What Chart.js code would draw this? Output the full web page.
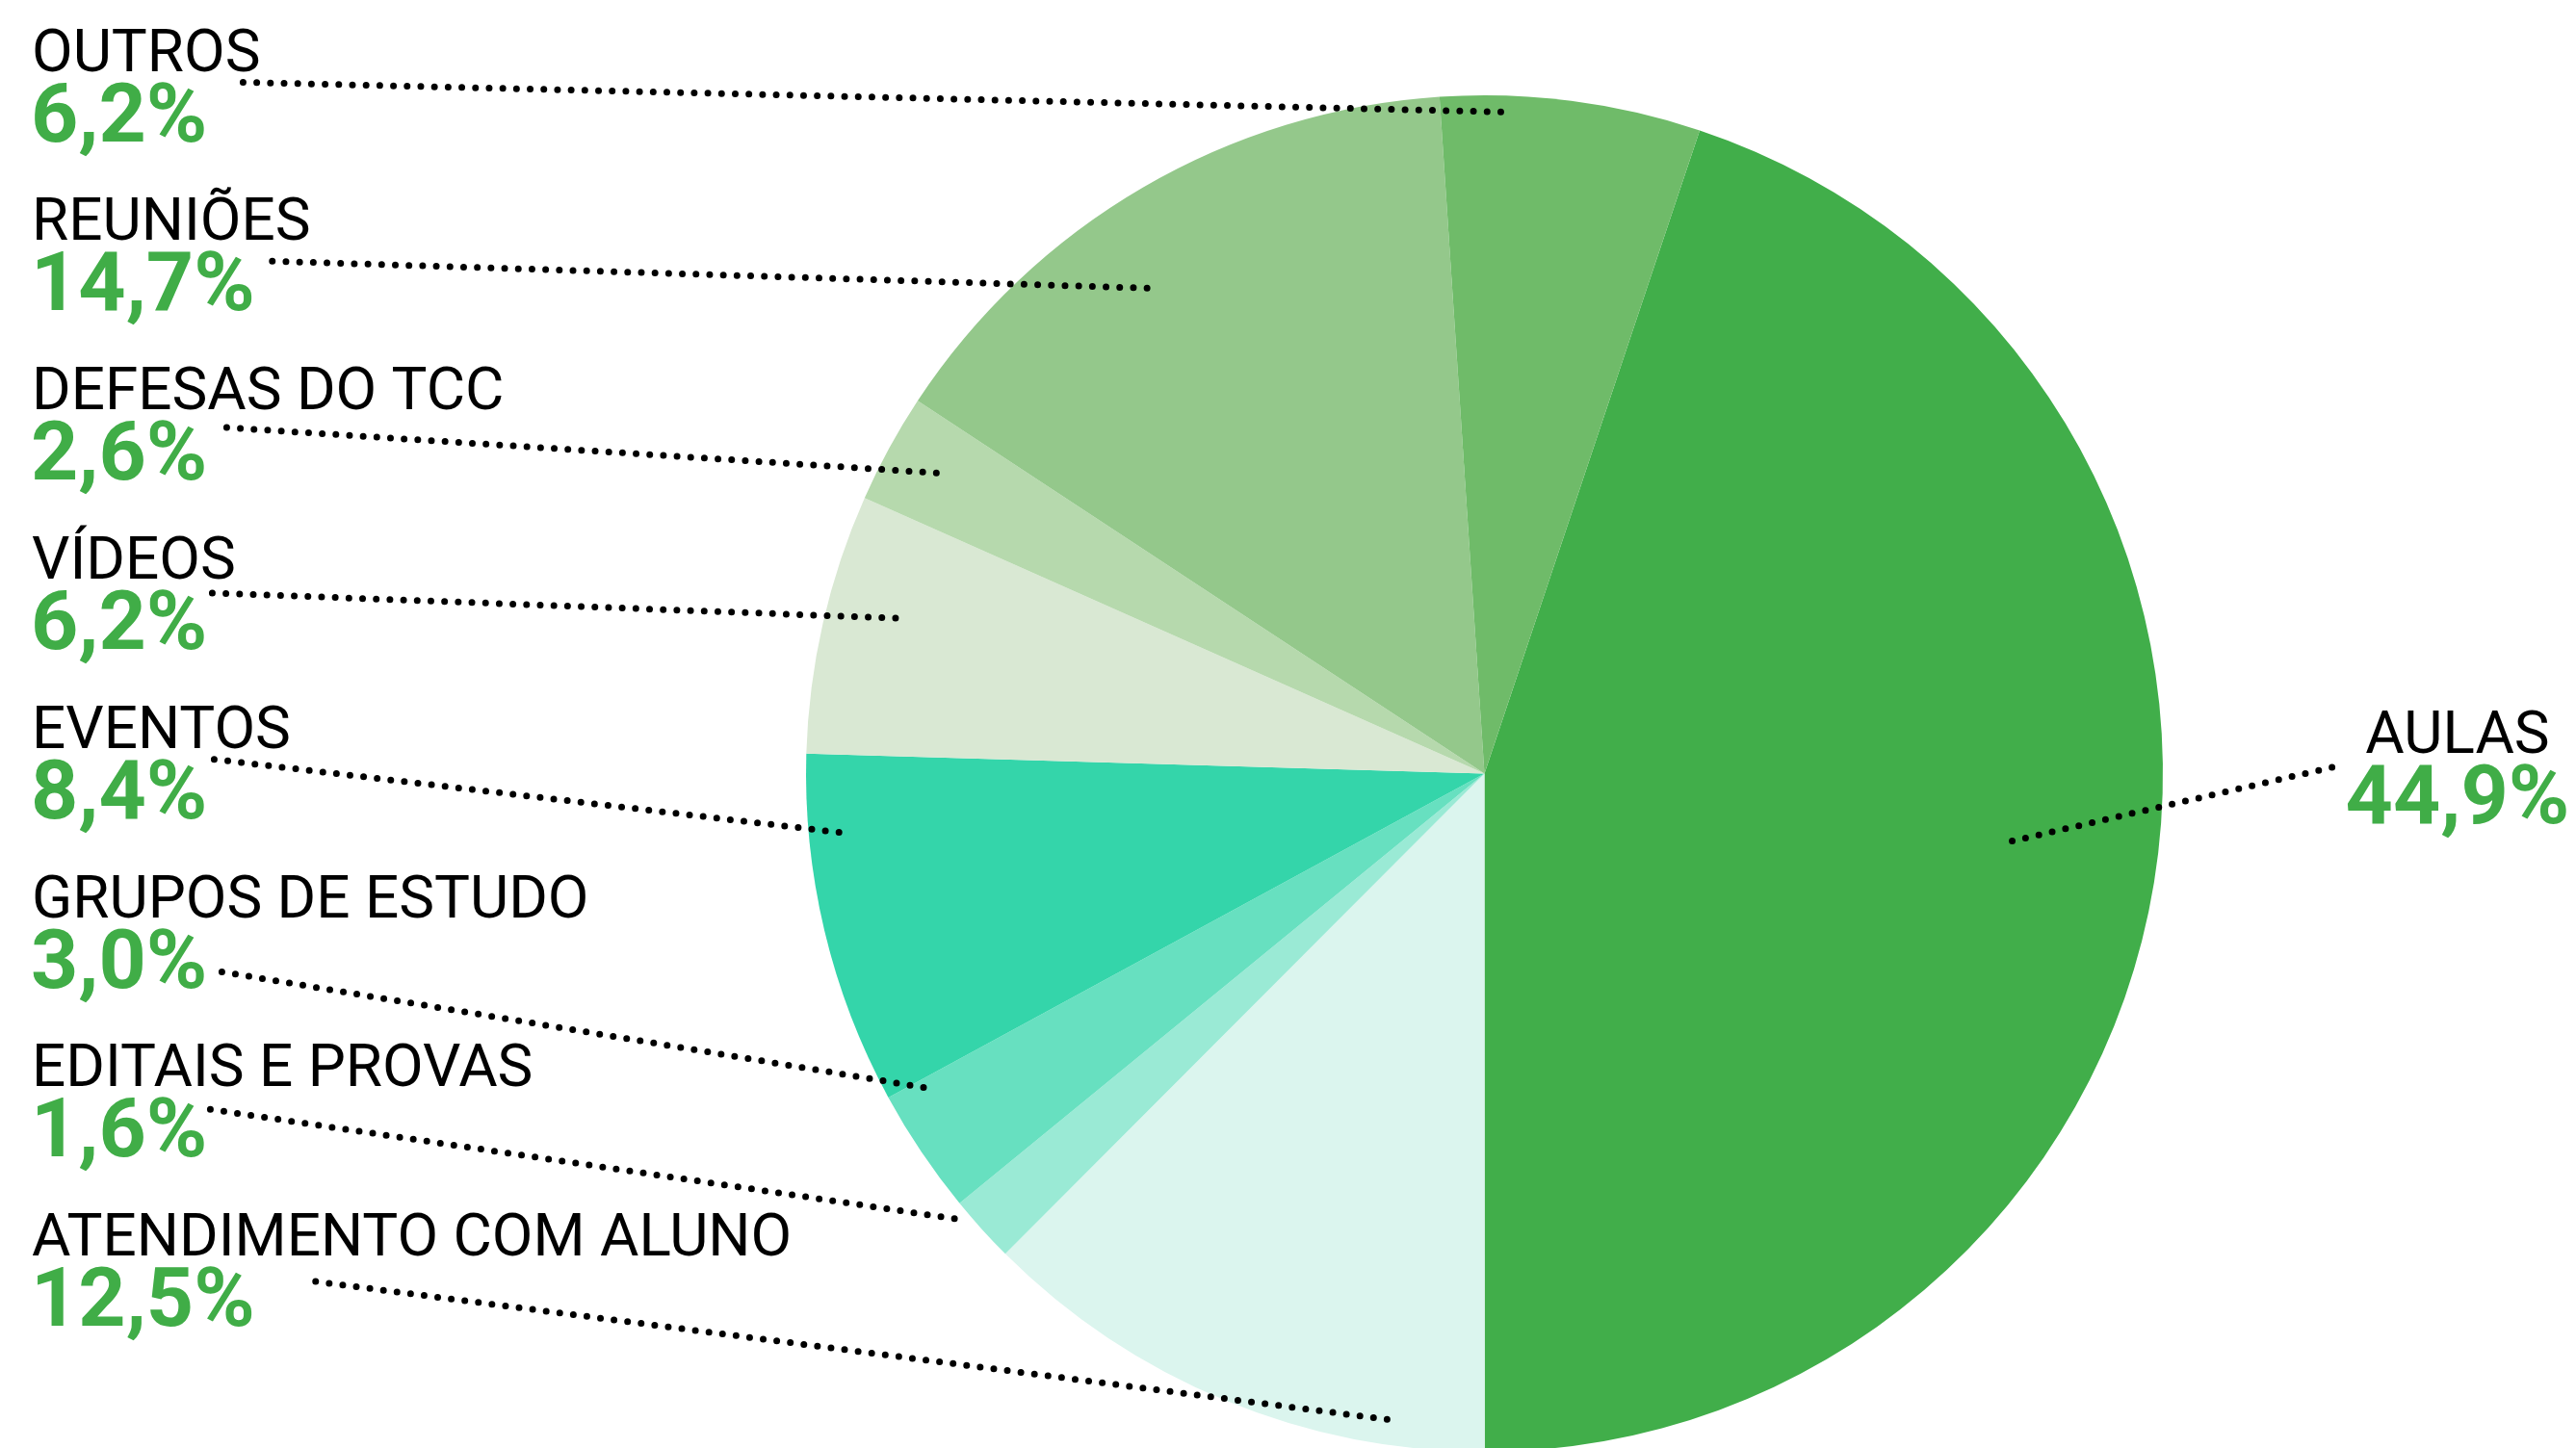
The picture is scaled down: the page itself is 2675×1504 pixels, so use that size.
<!DOCTYPE html>
<html>
<head>
<meta charset="utf-8">
<script src="https://cdn.jsdelivr.net/npm/chart.js@4/dist/chart.umd.min.js"></script>
<style>
html,body{margin:0;padding:0;background:#fff;overflow:hidden;}
#wrap{width:2675px;height:1508px;}
</style>
</head>
<body>
<div id="wrap"><canvas id="c" width="2675" height="1508"></canvas></div>
<script>
// ---- data ----
const categories = ['AULAS','ATENDIMENTO COM ALUNO','EDITAIS E PROVAS','GRUPOS DE ESTUDO','EVENTOS','VÍDEOS','DEFESAS DO TCC','REUNIÕES','OUTROS'];
const values = [44.9, 12.5, 1.6, 3.0, 8.4, 6.2, 2.6, 14.7, 6.2];
const valueLabels = ['44,9%','12,5%','1,6%','3,0%','8,4%','6,2%','2,6%','14,7%','6,2%'];
const sliceColors = ['#41ae4a','#dbf5ee','#9aead5','#67e0c0','#34d5aa','#d9e8d3','#b6d9ad','#94c88b','#6fbb69'];

// ---- label layout (row in left column, leader anchor within slice, leader start offset) ----
const labelRow = [null, 7, 6, 5, 4, 3, 2, 1, 0];
const anchorT = [0.49, 0.19, 0.85, 0.9, 0.77, 0.59, 0.54, 0.43, 0.28];
const anchorR = [0.772, 0.963, 1.018, 0.94, 0.951, 0.894, 0.912, 0.862, 0.976];
const startGap = [14, 63, 3, 15, 7, 5, 20, 18, 37];
const startDy = [15, 27, 24, 57, 12, 15, 19, 22, 12];

const NAME_FONT = '400 62px Roboto';
const PCT_FONT = '700 86px Roboto';
const PCT_COLOR = '#40ad47';

const labelPlugin = {
  id: 'labels',
  afterDatasetsDraw(chart) {
    const ctx = chart.ctx;
    const meta = chart.getDatasetMeta(0);
    ctx.save();
    ctx.textBaseline = 'alphabetic';
    meta.data.forEach((arc, i) => {
      const p = arc.getProps(['x','y','startAngle','endAngle','outerRadius'], true);
      const a = p.startAngle + anchorT[i] * (p.endAngle - p.startAngle);
      const r = anchorR[i] * p.outerRadius;
      const ex = p.x + Math.cos(a) * r;
      const ey = p.y + Math.sin(a) * r;
      let nameBase, sx, sy;
      if (labelRow[i] === null) {
        const cx = 2552;
        nameBase = 782;
        ctx.textAlign = 'center';
        ctx.fillStyle = '#000';
        ctx.font = NAME_FONT;
        ctx.fillText(categories[i], cx, nameBase);
        ctx.font = PCT_FONT;
        ctx.fillStyle = PCT_COLOR;
        ctx.fillText(valueLabels[i], cx, nameBase + 73);
        const w = ctx.measureText(valueLabels[i]).width;
        sx = cx - w / 2 - startGap[i];
        sy = nameBase + startDy[i];
      } else {
        nameBase = 73.5 + 175.8 * labelRow[i];
        ctx.textAlign = 'left';
        ctx.fillStyle = '#000';
        ctx.font = NAME_FONT;
        ctx.fillText(categories[i], 33, nameBase);
        ctx.font = PCT_FONT;
        ctx.fillStyle = PCT_COLOR;
        ctx.fillText(valueLabels[i], 32, nameBase + 73);
        const w = ctx.measureText(valueLabels[i]).width;
        sx = 32 + w + startGap[i];
        sy = nameBase + startDy[i];
      }
      ctx.beginPath();
      ctx.strokeStyle = '#000';
      ctx.lineWidth = 7;
      ctx.lineCap = 'round';
      ctx.setLineDash([0, 14.2]);
      ctx.moveTo(sx, sy);
      ctx.lineTo(ex, ey);
      ctx.stroke();
      ctx.setLineDash([]);
    });
    ctx.restore();
  }
};

new Chart(document.getElementById('c'), {
  type: 'pie',
  data: {
    labels: categories,
    datasets: [{
      data: values,
      backgroundColor: sliceColors,
      borderWidth: 0
    }]
  },
  options: {
    responsive: false,
    animation: false,
    rotation: 18.5,
    layout: { padding: { left: 837, right: 429, top: 99, bottom: 0 } },
    plugins: { legend: { display: false }, tooltip: { enabled: false } }
  },
  plugins: [labelPlugin]
});
</script>
</body>
</html>
